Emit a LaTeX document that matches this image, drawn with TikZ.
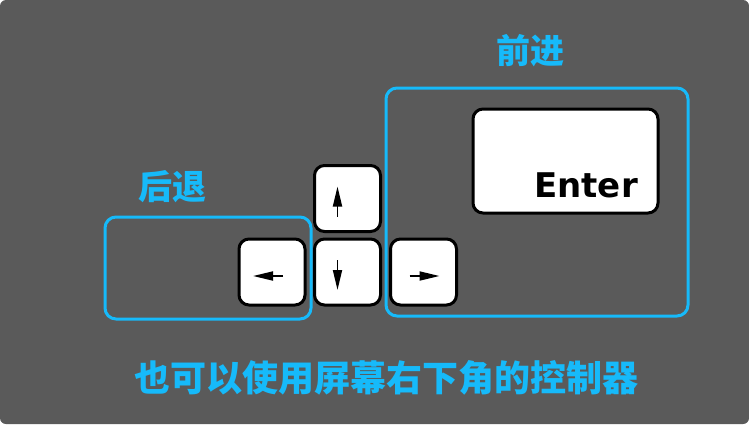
\documentclass[tikz,border=0pt]{standalone}
\usepackage{fontspec}
\newfontfamily\cjk{Noto Sans CJK SC}
\setsansfont{DejaVu Sans}
\usetikzlibrary{arrows.meta,calc}
\definecolor{bg}{RGB}{90,90,90}
\definecolor{sky}{RGB}{22,186,250}
\tikzset{
  keybox/.style={draw=black,line width=3pt,fill=white,rounded corners=10pt,minimum width=66pt,minimum height=66pt,inner sep=0pt},
  zone/.style={draw=sky,line width=3pt,rounded corners=11pt},
  lab/.style={text=sky,font=\cjk\bfseries\fontsize{34}{34}\selectfont,inner sep=0pt},
  arr/.style={line width=1.8pt,-{Triangle[length=20pt,width=9pt]}},
}
\begin{document}
\begin{tikzpicture}[x=1pt,y=-1pt]
\useasboundingbox (0,0) rectangle (749,424);
\fill[white] (0,0) rectangle (749,424);
\fill[bg,rounded corners=6pt] (0,0) rectangle (749,424);
% zones
\draw[zone] (105,217) rectangle (311,319);
\draw[zone] (386,88) rectangle (688,316);
% keys
\node[keybox] (up) at (347.5,198.5) {};
\node[keybox] (left) at (272,272) {};
\node[keybox] (down) at (347.5,272) {};
\node[keybox] (right) at (423.5,272) {};
\node[keybox,minimum width=185pt,minimum height=104pt] (enter) at (565.5,161) {};
\node[font=\sffamily\bfseries\fontsize{34}{34}\selectfont,anchor=base east,inner sep=0pt] (entertxt) at (638,197) {Enter};
% arrows
\coordinate (u1) at ($(up.center)+(-10,18)$);
\coordinate (u2) at ($(up.center)+(-10,-12)$);
\draw[arr] (u1) -- (u2);
\coordinate (d1) at ($(down.center)+(-10,-12)$);
\coordinate (d2) at ($(down.center)+(-10,18)$);
\draw[arr] (d1) -- (d2);
\coordinate (l1) at ($(left.center)+(11,4)$);
\coordinate (l2) at ($(left.center)+(-19,4)$);
\draw[arr] (l1) -- (l2);
\coordinate (r1) at ($(right.center)+(-14,4)$);
\coordinate (r2) at ($(right.center)+(16,4)$);
\draw[arr] (r1) -- (r2);
% labels
\node[lab] (back) at (172,187) {后退};
\node[lab] (fwd) at (530,51) {前进};
\node[lab,font=\cjk\bfseries\fontsize{36}{36}\selectfont] (hint) at (386,378) {也可以使用屏幕右下角的控制器};
\end{tikzpicture}
\end{document}
